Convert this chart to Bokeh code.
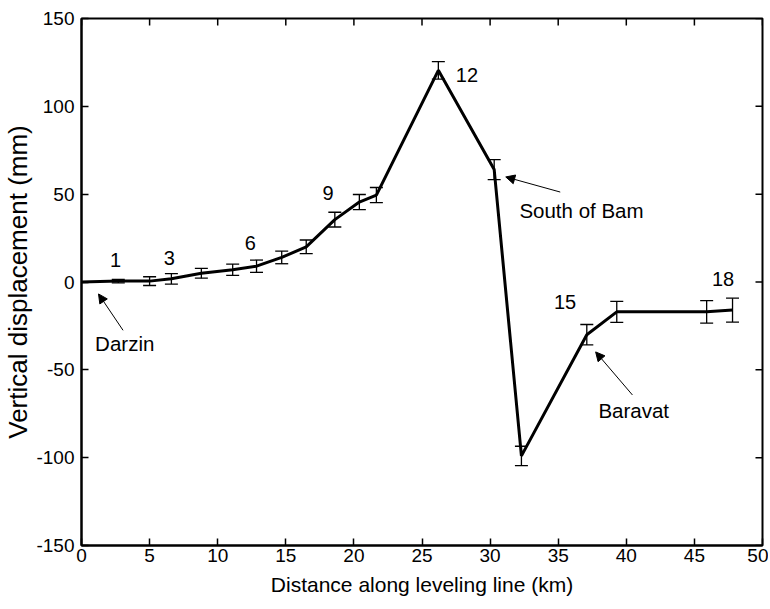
from bokeh.plotting import figure
from bokeh.models import (ColumnDataSource, Whisker, TeeHead, Arrow, NormalHead,
                          Range1d, FixedTicker, PrintfTickFormatter)
from bokeh.embed import file_html
from bokeh.resources import INLINE
from bokeh.core.properties import value

# ---- data ----
dist_km = [0.0, 2.7, 5.0, 6.6, 8.8, 11.1, 12.85, 14.7, 16.5, 18.6, 20.4, 21.65,
           26.2, 30.3, 32.3, 37.1, 39.3, 45.9, 47.8]
disp_mm = [0.0, 0.5, 0.5, 1.8, 5.0, 7.0, 9.0, 14.0, 20.0, 35.5, 45.5, 49.5,
           120.5, 64.0, -99.0, -30.0, -17.0, -17.0, -16.0]
err_mm = [0.0, 1.0, 2.5, 3.0, 2.8, 3.2, 3.5, 3.6, 3.9, 4.2, 4.3, 4.3,
          5.0, 5.7, 5.5, 5.8, 6.0, 6.4, 6.8]

num_labels = ["1", "3", "6", "9", "12", "15", "18"]
num_x = [2.5, 6.45, 12.4, 18.1, 28.3, 35.5, 47.1]
num_y = [12.5, 13.7, 22.2, 50.6, 118.0, -11.4, 1.7]

place_names = ["Darzin", "South of Bam", "Baravat"]
place_x = [1.0, 32.15, 37.95]
place_y = [-35.0, 40.6, -72.9]
arrow_tip_x = [1.25, 31.15, 37.75]
arrow_tip_y = [-6.8, 59.8, -39.8]
arrow_tail_x = [3.05, 35.15, 40.45]
arrow_tail_y = [-27.5, 51.2, -64.3]

x_ticks = [0, 5, 10, 15, 20, 25, 30, 35, 40, 45, 50]
y_ticks = [-150, -100, -50, 0, 50, 100, 150]

X_MIN, X_MAX = 0, 50
Y_MIN, Y_MAX = -150, 150

FONT = "Liberation Sans"

p = figure(width=768, height=600, output_backend="svg", toolbar_location=None,
           x_range=Range1d(X_MIN, X_MAX), y_range=Range1d(Y_MIN, Y_MAX),
           min_border_left=81, min_border_right=6, min_border_top=18,
           min_border_bottom=55)
p.grid.visible = False
p.outline_line_color = "black"
p.outline_line_width = 2
p.background_fill_color = "white"
p.border_fill_color = "white"

xa = p.xaxis[0]
ya = p.yaxis[0]
for ax in (xa, ya):
    ax.major_tick_in = 7
    ax.major_tick_out = 0
    ax.minor_tick_line_color = None
    ax.axis_line_width = 2
    ax.major_tick_line_width = 1.5
    ax.major_label_text_font = FONT
    ax.major_label_text_font_size = "19px"
    ax.major_label_text_color = "black"
    ax.axis_label_text_font = FONT
    ax.axis_label_text_font_style = "normal"
    ax.axis_label_text_color = "black"
    ax.formatter = PrintfTickFormatter(format="%d")
xa.ticker = FixedTicker(ticks=x_ticks)
ya.ticker = FixedTicker(ticks=y_ticks)
xa.axis_label = "Distance along leveling line (km)"
xa.axis_label_text_font_size = "21px"
xa.major_label_standoff = 3
xa.axis_label_standoff = 8
ya.axis_label = "Vertical displacement (mm)"
ya.axis_label_text_font_size = "26px"
ya.major_label_standoff = 7
ya.axis_label_standoff = 0

# inward ticks on the top and right frame edges (length in data units = 7 px)
tick_len_y = 7 * (Y_MAX - Y_MIN) / 527.0
tick_len_x = 7 * (X_MAX - X_MIN) / 681.0
p.segment(x0=x_ticks, y0=[Y_MAX] * len(x_ticks), x1=x_ticks,
          y1=[Y_MAX - tick_len_y] * len(x_ticks), line_color="black", line_width=1.5)
p.segment(x0=[X_MAX] * len(y_ticks), y0=y_ticks, x1=[X_MAX - tick_len_x] * len(y_ticks),
          y1=y_ticks, line_color="black", line_width=1.5)

# error bars
idx = [i for i, e in enumerate(err_mm) if e > 0]
eb = ColumnDataSource(dict(
    x=[dist_km[i] for i in idx],
    lower=[disp_mm[i] - err_mm[i] for i in idx],
    upper=[disp_mm[i] + err_mm[i] for i in idx],
))
w = Whisker(source=eb, base="x", lower="lower", upper="upper", dimension="height",
            line_color="black", line_width=1.3,
            upper_head=TeeHead(size=13, line_color="black", line_width=1.3),
            lower_head=TeeHead(size=13, line_color="black", line_width=1.3))
p.add_layout(w)

# main line
p.line(dist_km, disp_mm, line_color="black", line_width=3)

# point numbers
p.text(x=num_x, y=num_y, text=num_labels, text_font=value(FONT),
       text_font_size="20px", text_align="center", text_baseline="middle",
       text_color="black")

# place names
p.text(x=place_x, y=place_y, text=place_names, text_font=value(FONT),
       text_font_size="20.5px", text_align="left", text_baseline="middle",
       text_color="black")

for i in range(len(place_names)):
    p.add_layout(Arrow(end=NormalHead(size=9, fill_color="black", line_color="black"),
                       x_start=arrow_tail_x[i], y_start=arrow_tail_y[i],
                       x_end=arrow_tip_x[i], y_end=arrow_tip_y[i],
                       line_color="black", line_width=1))

open("out.html", "w").write(file_html(p, INLINE))
